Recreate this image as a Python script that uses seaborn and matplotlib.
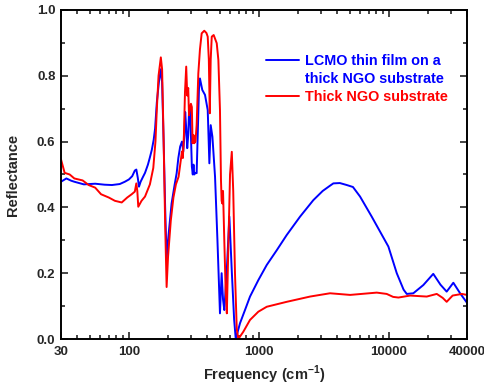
import numpy as np
import pandas as pd
import seaborn as sns
import matplotlib.pyplot as plt
from matplotlib.lines import Line2D
from matplotlib.ticker import LogLocator, MultipleLocator, FixedLocator, NullFormatter

# LCMO thin film on a thick NGO substrate (blue)
freq_film = [30, 33, 36, 38, 45, 55, 65, 74, 85, 93, 100, 106, 111, 114, 117, 119.5,
             123, 128, 133, 140, 145, 150, 155, 159, 164, 170, 176, 180, 185, 190, 195,
             200, 213, 225, 233, 240, 248, 256, 262, 267, 271, 276, 281, 286, 290, 295,
             300, 305, 310, 314, 318, 325, 332, 340, 346, 352, 367, 385, 404, 416, 426,
             439, 460, 480, 502, 517, 530, 542, 565, 593, 620, 645, 664, 716, 782, 855,
             991, 1150, 1374, 1638, 2076, 2625, 3100, 3530, 3744, 4200, 4750, 5300, 6010,
             7390, 9930, 11520, 13000, 13750, 15450, 18450, 22000, 25000, 27900, 31400,
             35400, 40000]
refl_film = [0.478, 0.488, 0.481, 0.478, 0.470, 0.472, 0.469, 0.468, 0.471, 0.478, 0.485,
             0.495, 0.512, 0.515, 0.490, 0.463, 0.478, 0.492, 0.505, 0.530, 0.552, 0.575,
             0.605, 0.640, 0.720, 0.780, 0.820, 0.780, 0.600, 0.400, 0.245, 0.300, 0.412,
             0.470, 0.504, 0.550, 0.585, 0.600, 0.570, 0.620, 0.690, 0.640, 0.580, 0.620,
             0.690, 0.700, 0.620, 0.524, 0.500, 0.530, 0.500, 0.505, 0.504, 0.650, 0.760,
             0.792, 0.757, 0.742, 0.696, 0.534, 0.650, 0.615, 0.493, 0.300, 0.078, 0.200,
             0.120, 0.088, 0.200, 0.372, 0.200, 0.060, 0.000, 0.048, 0.088, 0.129, 0.179,
             0.225, 0.270, 0.316, 0.372, 0.422, 0.450, 0.466, 0.473, 0.474, 0.468, 0.462,
             0.433, 0.372, 0.281, 0.200, 0.150, 0.137, 0.139, 0.164, 0.198, 0.165, 0.144,
             0.171, 0.139, 0.110]

# Thick NGO substrate (red)
freq_sub = [30, 32, 35, 38, 44, 49, 55, 61, 70, 78, 88, 97, 105, 111, 114, 116, 118, 125,
            133, 145, 154, 160, 164, 169, 176, 180, 185, 190, 195, 200, 210, 220, 230, 241,
            250, 256, 260, 265, 270, 276, 281, 286, 290, 295, 300, 305, 309, 314, 318, 325,
            332, 342, 352, 363, 380, 395, 404, 412, 419, 426, 434, 449, 474, 488, 502, 511,
            517, 523, 530, 542, 555, 567, 580, 600, 619, 635, 655, 676, 695, 759, 855, 991,
            1150, 1638, 2478, 3530, 5040, 8080, 9640, 10800, 11860, 14590, 19600, 23400,
            26000, 27900, 31000, 36500, 40000]
refl_sub = [0.546, 0.505, 0.500, 0.488, 0.482, 0.468, 0.460, 0.440, 0.430, 0.420, 0.415,
            0.430, 0.440, 0.448, 0.473, 0.450, 0.402, 0.420, 0.433, 0.470, 0.520, 0.600,
            0.700, 0.800, 0.856, 0.820, 0.600, 0.350, 0.158, 0.250, 0.360, 0.430, 0.470,
            0.493, 0.540, 0.570, 0.550, 0.620, 0.750, 0.828, 0.740, 0.763, 0.680, 0.700,
            0.715, 0.705, 0.595, 0.620, 0.595, 0.600, 0.650, 0.807, 0.880, 0.929, 0.937,
            0.930, 0.919, 0.850, 0.686, 0.850, 0.919, 0.924, 0.899, 0.848, 0.696, 0.483,
            0.420, 0.412, 0.450, 0.300, 0.150, 0.078, 0.250, 0.500, 0.569, 0.450, 0.200,
            0.030, 0.000, 0.022, 0.058, 0.083, 0.098, 0.113, 0.129, 0.139, 0.134, 0.141,
            0.137, 0.128, 0.126, 0.132, 0.129, 0.137, 0.125, 0.113, 0.132, 0.137, 0.134]

label_film = "LCMO thin film on a"
label_film2 = "thick NGO substrate"
label_sub = "Thick NGO substrate"
x_ticks = [30, 100, 1000, 10000, 40000]

df = pd.concat([
    pd.DataFrame({"freq": freq_film, "R": refl_film, "sample": "film"}),
    pd.DataFrame({"freq": freq_sub, "R": refl_sub, "sample": "sub"}),
])

sns.set_style("ticks")
plt.rcParams['font.family'] = ['Liberation Sans', 'DejaVu Sans']
plt.rcParams['mathtext.fontset'] = 'custom'
plt.rcParams['mathtext.rm'] = 'Liberation Sans:bold'
plt.rcParams['mathtext.bf'] = 'Liberation Sans:bold'

fig = plt.figure(figsize=(4.85, 3.88), dpi=100)
ax = fig.add_axes([61 / 485, 1 - 339 / 388, 406 / 485, 329 / 388])

sns.lineplot(data=df, x="freq", y="R", hue="sample",
             palette={"film": "#0000ff", "sub": "#ff0000"},
             estimator=None, linewidth=1.4, ax=ax, legend=False)

ax.set_xscale("log")
ax.set_xlim(30, 40000)
ax.set_ylim(0, 1.0)
ax.xaxis.set_major_locator(FixedLocator(x_ticks))
ax.set_xticklabels([str(t) for t in x_ticks])
ax.xaxis.set_minor_locator(LogLocator(base=10, subs=np.arange(2, 10)))
ax.xaxis.set_minor_formatter(NullFormatter())
ax.yaxis.set_major_locator(MultipleLocator(0.2))
ax.yaxis.set_minor_locator(MultipleLocator(0.1))
ax.yaxis.set_major_formatter(plt.FuncFormatter(lambda v, p: f"{v:.1f}"))

ax.tick_params(which="both", direction="in", top=True, right=True, width=1.2)
ax.tick_params(which="major", length=5, labelsize=9.5)
ax.tick_params(axis="y", which="major", pad=4)
ax.tick_params(axis="x", which="major", pad=5)
ax.tick_params(which="minor", length=3)
for lab in ax.get_xticklabels() + ax.get_yticklabels():
    lab.set_fontweight("bold")
for sp in ax.spines.values():
    sp.set_linewidth(1.4)
    sp.set_color("black")

ax.set_xlabel(r"Frequency (cm$^{\mathbf{-1}}$)", fontsize=10.5, fontweight="bold", labelpad=4)
ax.set_ylabel("Reflectance", fontsize=10.5, fontweight="bold", labelpad=12)

handles = [Line2D([], [], color="#0000ff", lw=1.4),
           Line2D([], [], color="none", lw=0),
           Line2D([], [], color="#ff0000", lw=1.4)]
leg = ax.legend(handles, [label_film, label_film2, label_sub],
                loc="upper left", bbox_to_anchor=(0.505, 0.865), frameon=False,
                borderpad=0, borderaxespad=0, handlelength=2.3, handletextpad=0.4,
                labelspacing=0.25, prop={"weight": "bold", "size": 10.4})
for txt, c in zip(leg.get_texts(), ["#0000ff", "#0000ff", "#ff0000"]):
    txt.set_color(c)

fig.savefig("out.png", dpi=100)
